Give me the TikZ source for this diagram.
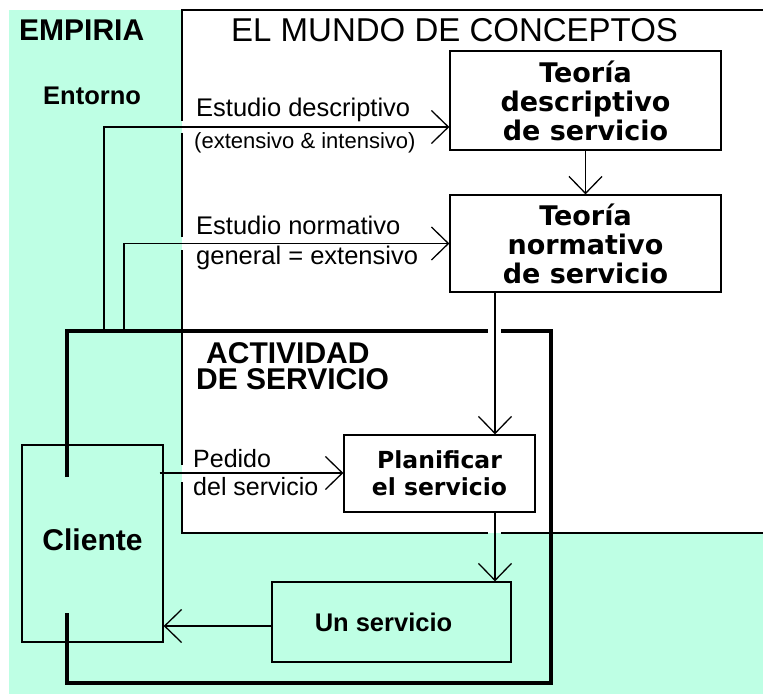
\documentclass[tikz,border=0pt]{standalone}
\usepackage{fontspec}
\setmainfont{Liberation Sans}
\newfontfamily\dvs{DejaVu Sans}
\usetikzlibrary{arrows.meta,calc}
\definecolor{mint}{RGB}{190,255,228}
\begin{document}
\begin{tikzpicture}[x=1pt,y=-1pt,
  bordline/.style={draw=black,line width=1.3pt},
  frameline/.style={draw=black,line width=3.4pt,line join=miter,line cap=butt},
  arr/.style={draw=black,line width=1.3pt,-{Straight Barb[length=17pt,width=33pt,line width=1.3pt]}},
  boxnode/.style={draw=black,line width=1.3pt,fill=white,align=center,inner sep=0pt},
  lbl/.style={anchor=base west,inner sep=0pt,text=black},
]
\useasboundingbox (0,0) rectangle (763,695);
% regions
\fill[mint] (9,10) rectangle (763,694);
\fill[white] (182,10) rectangle (763,533);
\draw[bordline] (763,10) -- (182,10) -- (182,121);
\draw[bordline] (182,133) -- (182,237);
\draw[bordline] (182,250) -- (182,465);
\draw[bordline] (182,482) -- (182,533) -- (488,533);
\draw[bordline] (501,533) -- (763,533);

% titles
\node[lbl,font=\bfseries\fontsize{30}{36}\selectfont] (empiria) at (19,41) {EMPIRIA};
\node[lbl,font=\fontsize{33}{40}\selectfont] (mundo) at (231,42) {EL MUNDO DE CONCEPTOS};
\node[lbl,font=\bfseries\fontsize{25.5}{30}\selectfont] (entorno) at (43,105) {Entorno};
\node[lbl,align=left,font=\bfseries\fontsize{30}{26}\selectfont] (act) at (196,389)
      {\hspace*{10pt}ACTIVIDAD\\DE SERVICIO};

% boxes
\node[boxnode,minimum width=271pt,minimum height=99pt,
      font=\dvs\bfseries\fontsize{27}{29}\selectfont] (desc) at (585.5,100.5)
      {Teoría\\descriptivo\\de servicio};
\node[boxnode,minimum width=271pt,minimum height=97pt,
      font=\dvs\bfseries\fontsize{27}{29}\selectfont] (norm) at (585.5,243.5)
      {Teoría\\normativo\\de servicio};
\node[boxnode,minimum width=191pt,minimum height=77pt,
      font=\dvs\bfseries\fontsize{23.5}{27}\selectfont] (plan) at (439.5,473.5)
      {Planificar\\el servicio};
\node[boxnode,fill=mint,minimum width=239pt,minimum height=80pt,
      font=\bfseries\fontsize{25.5}{30}\selectfont] (un) at (391.5,622)
      {Un servicio\hspace*{16pt}};
\node[boxnode,fill=mint,minimum width=141pt,minimum height=197pt,text depth=8pt,
      font=\bfseries\fontsize{30}{36}\selectfont] (cli) at (92.5,543.5)
      {Cliente};

% frame of the service activity
\coordinate (ctop) at (67,477);
\coordinate (cbot) at (67,613);
\coordinate (xv) at (495,0);
\draw[frameline] (ctop) -- (67,331) -- (488,331);
\draw[frameline] (501,331) -- (551,331) -- (551,683) -- (67,683) -- (cbot);

% connectors
\coordinate (e1) at (104,331);
\coordinate (e2) at (124,331);
\coordinate (yd) at (0,127);
\coordinate (yp) at (0,473);
\coordinate (yu) at (0,626);
\draw[arr] (e1) |- (desc.west |- yd);
\draw[arr] (e2) |- (norm.west);
\draw[arr] (desc.south) -- (norm.north);
\draw[arr] (norm.south -| xv) -- (plan.north -| xv);
\draw[arr] (plan.south -| xv) -- (un.north -| xv);
\draw[arr] (cli.east |- yp) ++(-4,0) -- (plan.west |- yp);
\draw[arr] (un.west |- yu) -- (cli.east |- yu);

% connector labels
\node[lbl,font=\fontsize{25.5}{30}\selectfont] (ld1) at (196,117) {Estudio descriptivo};
\node[lbl,font=\fontsize{22}{26}\selectfont] (ld2) at (194,149) {(extensivo \& intensivo)};
\node[lbl,font=\fontsize{25.5}{30}\selectfont] (ln1) at (196,235) {Estudio normativo};
\node[lbl,font=\fontsize{25.5}{30}\selectfont] (ln2) at (196,265) {general = extensivo};
\node[lbl,font=\fontsize{25}{30}\selectfont] (lp1) at (193,467) {Pedido};
\node[lbl,font=\fontsize{25}{30}\selectfont] (lp2) at (193,495) {del servicio};
\end{tikzpicture}
\end{document}
